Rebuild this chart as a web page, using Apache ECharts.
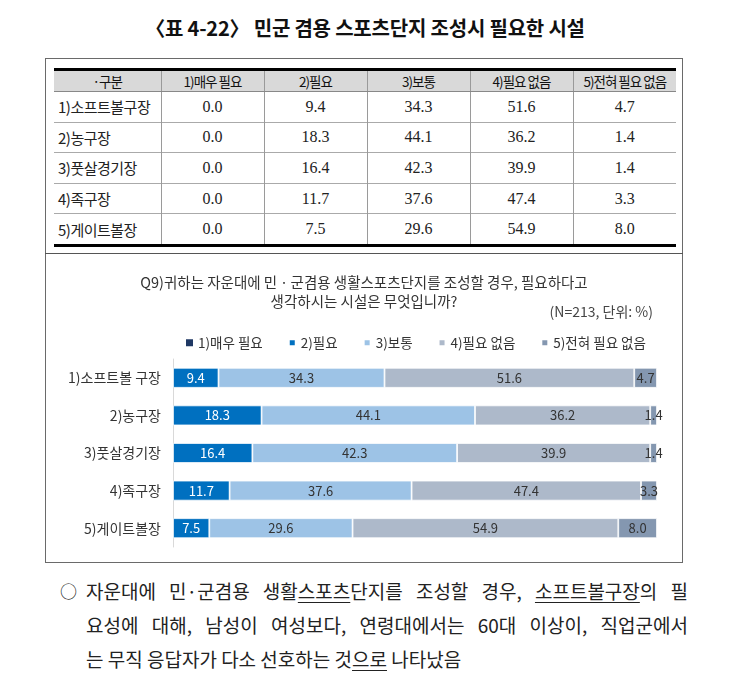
<!DOCTYPE html>
<html><head><meta charset="utf-8">
<script src="https://cdn.jsdelivr.net/npm/echarts@6/dist/echarts.min.js"></script>
<style>
html,body{margin:0;padding:0;background:#fff;width:730px;height:690px;overflow:hidden;}
body{position:relative;font-family:"Noto Sans CJK KR","Noto Sans",sans-serif;color:#222;}
#title{position:absolute;left:0;top:13px;width:730px;text-align:center;font-size:20px;font-weight:700;letter-spacing:-0.2px;color:#111;}
#box{position:absolute;left:45px;top:58px;width:636px;height:503px;border:1.5px solid #6a6a6a;}
#divider{position:absolute;left:45px;top:253px;width:638px;height:0;border-top:1.2px solid #555;}
#tbl{position:absolute;left:54px;top:68px;width:622px;border-collapse:collapse;table-layout:fixed;border-top:3px solid #000;border-bottom:3px solid #000;}
#tbl th{background:#d9d9d9;height:20px;font-weight:400;font-size:13.5px;letter-spacing:-1px;padding:0;border-left:1px solid #9a9a9a;border-bottom:1px solid #888;color:#111;}
#tbl td{height:29.6px;padding:0;border-left:1px solid #9a9a9a;border-top:1px solid #aaa;text-align:center;font-family:"Liberation Serif","Noto Sans CJK KR",serif;font-size:16px;color:#222;}
#tbl td.lab{text-align:left;padding-left:4px;font-family:"Noto Sans CJK KR",sans-serif;font-size:15px;letter-spacing:-0.5px;}
#tbl tr>*:first-child{border-left:none;}
#chart{position:absolute;left:46px;top:254px;width:636px;height:308px;}
#note{position:absolute;left:60px;top:574px;width:628px;font-size:19px;line-height:34px;color:#222;}
#note .ln{position:relative;padding-left:26px;text-align:justify;text-align-last:justify;white-space:nowrap;}
#note .ln.last{text-align-last:left;}
#note .bul{position:absolute;left:0;top:0;font-size:17px;}
#note u{text-decoration:underline;text-underline-offset:3px;text-decoration-thickness:1px;}
</style></head>
<body>
<div id="title"></div>
<div id="box"></div>
<div id="divider"></div>
<table id="tbl"></table>
<div id="chart"></div>
<div id="note"></div>
<script>
// ---- data ----
const pageTitle = '〈표 4-22〉 민군 겸용 스포츠단지 조성시 필요한 시설';
const tableHeader = ['·구분', '1)매우 필요', '2)필요', '3)보통', '4)필요 없음', '5)전혀 필요 없음'];
const tableRows = ['1)소프트볼구장', '2)농구장', '3)풋살경기장', '4)족구장', '5)게이트볼장'];
const chartCategories = ['1)소프트볼 구장', '2)농구장', '3)풋살경기장', '4)족구장', '5)게이트볼장'];
const seriesNames = ['1)매우 필요', '2)필요', '3)보통', '4)필요 없음', '5)전혀 필요 없음'];
const veryNeeded = [0.0, 0.0, 0.0, 0.0, 0.0];
const needed = [9.4, 18.3, 16.4, 11.7, 7.5];
const neutral = [34.3, 44.1, 42.3, 37.6, 29.6];
const notNeeded = [51.6, 36.2, 39.9, 47.4, 54.9];
const notAtAll = [4.7, 1.4, 1.4, 3.3, 8.0];
const chartTitle = 'Q9)귀하는 자운대에 민ㆍ군겸용 생활스포츠단지를 조성할 경우, 필요하다고\n생각하시는 시설은 무엇입니까?';
const chartSub = '(N=213, 단위: %)';
const noteLines = [
  '자운대에 민·군겸용 생활<u>스포츠</u>단지를 조성할 경우, <u>소프트볼구장</u>의 필',
  '요성에 대해, 남성이 여성보다, 연령대에서는 60대 이상이, 직업군에서',
  '는 무직 응답자가 다소 선호하는 것<u>으로</u> 나타났음'
];
const seriesValues = [veryNeeded, needed, neutral, notNeeded, notAtAll];
const seriesColors = ['#1f3864', '#0070c0', '#9dc3e6', '#adb9ca', '#8497b0'];
const labelColors = ['#fff', '#fff', '#333', '#333', '#333'];

// ---- page text ----
document.getElementById('title').textContent = pageTitle;
const tbl = document.getElementById('tbl');
let h = '<colgroup><col style="width:107px">' + '<col>'.repeat(5) + '</colgroup><tr>';
tableHeader.forEach(t => h += '<th>' + t + '</th>');
h += '</tr>';
tableRows.forEach((r, i) => {
  h += '<tr><td class="lab">' + r + '</td>';
  seriesValues.forEach(s => h += '<td>' + s[i].toFixed(1) + '</td>');
  h += '</tr>';
});
tbl.innerHTML = h;
const note = document.getElementById('note');
note.innerHTML = noteLines.map((l, i) =>
  '<div class="ln' + (i === noteLines.length - 1 ? ' last' : '') + '">' + (i === 0 ? '<span class="bul">○</span>' : '') + l + '</div>').join('');

// ---- chart ----
const chart = echarts.init(document.getElementById('chart'));
const font = '"Noto Sans CJK KR","Noto Sans",sans-serif';
chart.setOption({
  animation: false,
  title: [
    {text: chartTitle, left: 'center', top: 14,
     textStyle: {fontSize: 14.5, fontWeight: 'normal', color: '#333', lineHeight: 19, fontFamily: font}},
    {text: chartSub, right: 24, top: 46,
     textStyle: {fontSize: 14, fontWeight: 'normal', color: '#444', fontFamily: font}}
  ],
  legend: {
    top: 77, left: 135, itemWidth: 7, itemHeight: 7, itemGap: 25, icon: 'rect',
    textStyle: {fontSize: 13.5, color: '#333', fontFamily: font},
    data: seriesNames
  },
  grid: {left: 127, right: 25, top: 105, bottom: 15},
  xAxis: {type: 'value', min: 0, max: 100, show: false},
  yAxis: {
    type: 'category', inverse: true, data: chartCategories,
    axisLine: {show: true, lineStyle: {color: '#d9d9d9', width: 1}},
    axisTick: {show: false},
    axisLabel: {color: '#333', fontSize: 14, margin: 12, fontFamily: font}
  },
  series: seriesNames.map((n, k) => ({
    name: n, type: 'bar', stack: 'total', barWidth: 20,
    data: seriesValues[k],
    itemStyle: {color: seriesColors[k], borderColor: '#fff', borderWidth: k === 0 ? 0 : 0.8},
    label: {show: k !== 0, position: 'inside', color: labelColors[k], fontSize: 13, fontFamily: font,
            formatter: p => p.value.toFixed(1)}
  }))
});
</script>
</body></html>
